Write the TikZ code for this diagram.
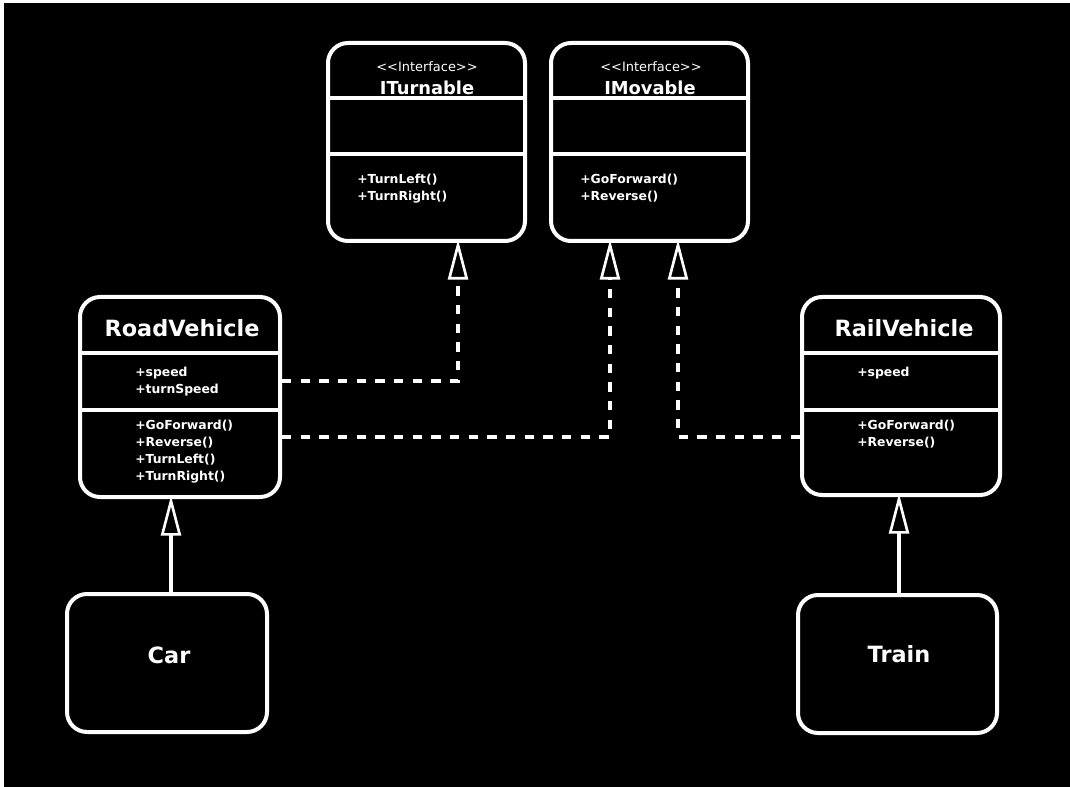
\documentclass[tikz,border=0pt]{standalone}
\usepackage{fontspec}
\setmainfont{DejaVu Sans}
\usetikzlibrary{arrows.meta}

\tikzset{
  umlbox/.style={draw=white, line width=3pt, rounded corners=15pt, inner sep=0pt},
  divider/.style={draw=white, line width=2.4pt},
  titletext/.style={text=white, inner sep=0pt, font=\bfseries\fontsize{16.8}{20}\selectfont},
  ifacetext/.style={text=white, inner sep=0pt, font=\bfseries\fontsize{13.4}{16}\selectfont},
  stereotext/.style={text=white, inner sep=0pt, font=\fontsize{9.7}{12}\selectfont},
  membertext/.style={text=white, inner sep=0pt, anchor=west, align=left, font=\bfseries\fontsize{9.3}{12.75}\selectfont},
  realize/.style={draw=white, line width=3pt, dash pattern=on 7pt off 7pt, shorten >=-2.5pt,
    -{Triangle[open, length=30pt, width=15pt, line width=2pt]}},
  inherit/.style={draw=white, line width=2.4pt, shorten >=-2.5pt,
    -{Triangle[open, length=30pt, width=15pt, line width=2pt]}}
}

\begin{document}
\begin{tikzpicture}[x=0.75pt, y=-0.75pt]

% background
\fill[white] (0,0) rectangle (1070,787);
\fill[black] (4,3) rectangle (1070,787);
\useasboundingbox (0,0) rectangle (1070,787);

% ITurnable
\node[umlbox, minimum width=147.75pt, minimum height=148.5pt] (turn) at (426.5,142) {};
\node[stereotext] (turnstereo) at (427,67) {<{}<Interface>{}>};
\node[ifacetext] (turnname) at (427,88) {ITurnable};
\draw[divider] (turn.west |- 0,98) -- (turn.east |- 0,98);
\draw[divider] (turn.west |- 0,154) -- (turn.east |- 0,154);
\node[membertext] (turnops) at (357,188.5) {+TurnLeft()\\+TurnRight()};

% IMovable
\node[umlbox, minimum width=147.75pt, minimum height=148.5pt] (move) at (649.5,142) {};
\node[stereotext] (movestereo) at (651,67) {<{}<Interface>{}>};
\node[ifacetext] (movename) at (650,88) {IMovable};
\draw[divider] (move.west |- 0,98) -- (move.east |- 0,98);
\draw[divider] (move.west |- 0,154) -- (move.east |- 0,154);
\node[membertext] (moveops) at (580,188.5) {+GoForward()\\+Reverse()};

% RoadVehicle
\node[umlbox, minimum width=150pt, minimum height=150pt] (road) at (180,397) {};
\node[titletext] (roadname) at (182,328) {RoadVehicle};
\draw[divider] (road.west |- 0,353) -- (road.east |- 0,353);
\draw[divider] (road.west |- 0,410) -- (road.east |- 0,410);
\node[membertext] (roadattr) at (135,381.5) {+speed\\+turnSpeed};
\node[membertext] (roadops) at (135,452) {+GoForward()\\+Reverse()\\+TurnLeft()\\+TurnRight()};

% RailVehicle
\node[umlbox, minimum width=148.5pt, minimum height=148.5pt] (rail) at (901,396) {};
\node[titletext] (railname) at (904,328) {RailVehicle};
\draw[divider] (rail.west |- 0,353) -- (rail.east |- 0,353);
\draw[divider] (rail.west |- 0,410) -- (rail.east |- 0,410);
\node[membertext] (railattr) at (857,373) {+speed};
\node[membertext] (railops) at (857,434.5) {+GoForward()\\+Reverse()};

% Car
\node[umlbox, minimum width=150pt, minimum height=103.5pt] (car) at (167,663) {};
\node[titletext] (carname) at (169,655) {Car};

% Train
\node[umlbox, minimum width=149.25pt, minimum height=103.5pt] (train) at (897.5,664) {};
\node[titletext] (trainname) at (899,654) {Train};

% realizations
\draw[realize] (road.east |- 0,381) -| (turn.south -| 458,0);
\draw[realize] (road.east |- 0,437) -| (move.south -| 610,0);
\draw[realize] (rail.west |- 0,437) -| (move.south -| 678,0);

% inheritance
\draw[inherit] (car.north -| 171,0) -- (road.south -| 171,0);
\draw[inherit] (train.north -| 899,0) -- (rail.south -| 899,0);

\end{tikzpicture}
\end{document}
